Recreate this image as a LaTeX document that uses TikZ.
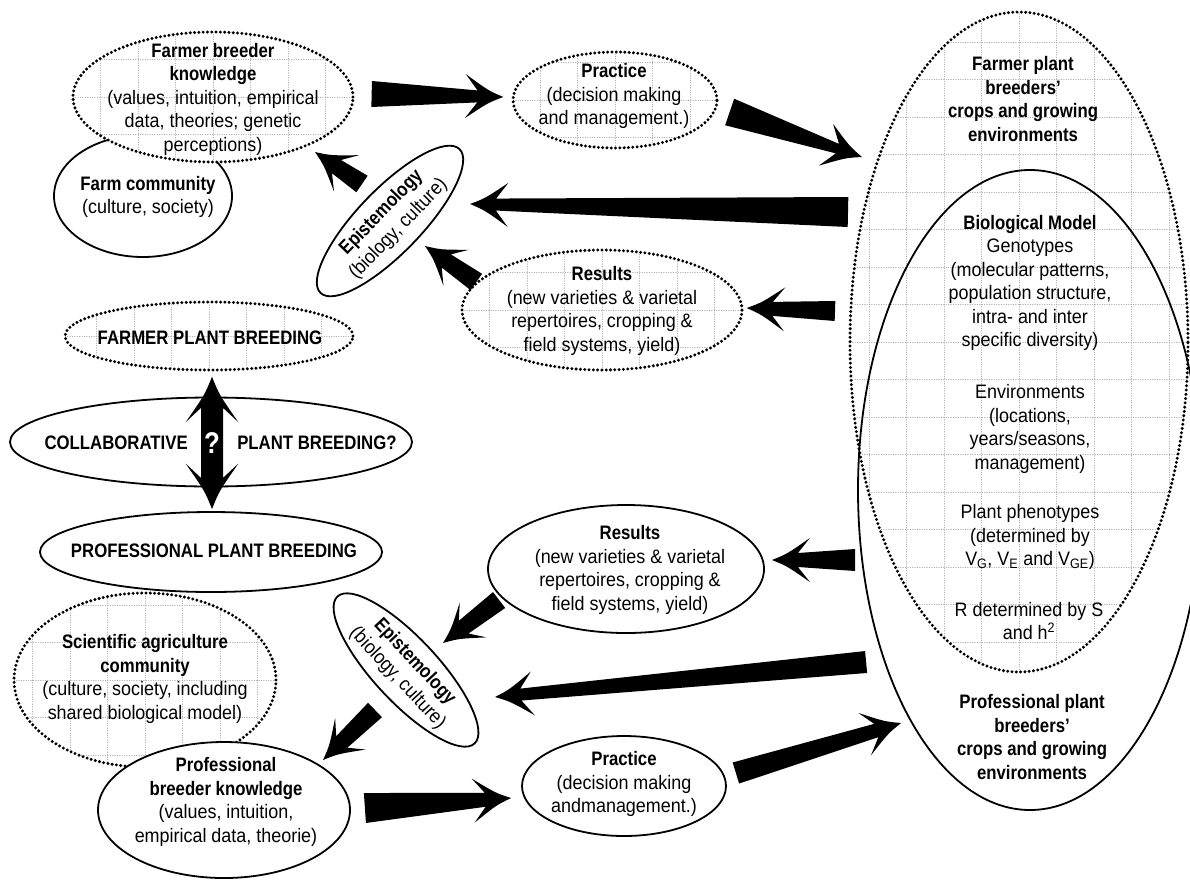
\documentclass[tikz,border=0pt]{standalone}
\usepackage{fontspec}
\setmainfont{Liberation Sans}[UprightFeatures={FakeStretch=0.92}, BoldFeatures={FakeStretch=0.86}]
\usetikzlibrary{shapes.geometric,calc,positioning}

% tapered block arrow: [head scale]{start}{tip}{start half width}{neck half width}
\newcommand{\fatarrow}[5][1]{
    \coordinate (fa-s) at (#2);
    \coordinate (fa-t) at (#3);
    \coordinate (fa-n) at ($(fa-t)!#1*26pt!(fa-s)$);
    \coordinate (fa-b) at ($(fa-t)!#1*38pt!(fa-s)$);
    \coordinate (fa-c) at ($(fa-t)!#1*15pt!(fa-s)$);
    \fill[arrowfill] ($(fa-s)!#4pt!90:(fa-t)$) -- ($(fa-n)!#5pt!90:(fa-t)$)
        -- ($(fa-b)!#1*22pt!90:(fa-t)$) .. controls ($(fa-c)!#1*6pt!90:(fa-t)$) .. (fa-t)
        .. controls ($(fa-c)!#1*6pt!-90:(fa-t)$) .. ($(fa-b)!#1*22pt!-90:(fa-t)$)
        -- ($(fa-n)!#5pt!-90:(fa-t)$) -- ($(fa-s)!#4pt!-90:(fa-t)$) -- cycle;
}

\begin{document}
\begin{tikzpicture}[x=1pt, y=-1pt, line join=round]
    \tikzstyle{txt}=[inner sep=0pt, align=center, font=\fontsize{19.5}{23.5}\selectfont]
    \tikzstyle{gridline}=[black!35, line width=0.5pt, dash pattern=on 0.6pt off 1.8pt]
    \tikzstyle{bubble}=[ellipse, inner sep=0pt, draw=black, line width=1.8pt, fill=white]
    \tikzstyle{dotted bubble}=[bubble, line width=3.3pt, line cap=round, dash pattern=on 0pt off 4.3pt,
        path picture={\draw[gridline, step=37.5pt] (path picture bounding box.north west) grid (path picture bounding box.south east);}]
    \tikzstyle{arrowfill}=[fill=black]
    \fill[white] (0,0) rectangle (1190,879);
    \useasboundingbox (0,0) rectangle (1190,879);

    % Draw the farmer side
    \node[bubble, minimum width=178pt, minimum height=122pt] (commF) at (143,196) {};
    \node[txt] (commF-t) at (148,197) {\textbf{Farm community}\\(culture, society)};
    \node[dotted bubble, minimum width=280pt, minimum height=130pt] (knowF) at (213,97) {};
    \node[txt] (knowF-t) at (213,99) {\textbf{Farmer breeder}\\\textbf{knowledge}\\(values, intuition, empirical\\data, theories; genetic\\perceptions)};
    \node[bubble, txt, rotate=46, minimum width=200pt, minimum height=64pt] (epiF) at (390,221) {\textbf{Epistemology}\\(biology, culture)};
    \node[dotted bubble, minimum width=204pt, minimum height=96pt] (pracF) at (615,100) {};
    \node[txt] (pracF-t) at (614,96) {\textbf{Practice}\\(decision making\\and management.)};
    \node[dotted bubble, minimum width=280pt, minimum height=120pt] (resF) at (602,310) {};
    \node[txt] (resF-t) at (602,311) {\textbf{Results}\\(new varieties \& varietal\\repertoires, cropping \&\\field systems, yield)};

    % Draw the crops and growing environments
    \node[dotted bubble, minimum width=338pt, minimum height=660pt] (crops) at (1019,342) {};
    \node[bubble, fill=none, minimum width=344pt, minimum height=640pt] (bioModel) at (1030,490) {};
    \node[txt] (cropsF-t) at (1023,99) {\textbf{Farmer plant}\\\textbf{breeders'}\\\textbf{crops and growing}\\\textbf{environments}};
    \node[txt] (bio-t) at (1030,283) {\textbf{Biological Model}\\Genotypes\\(molecular patterns,\\population structure,\\intra- and inter\\specific diversity)};
    \node[txt] (env-t) at (1030,429) {Environments\\(locations,\\years/seasons,\\management)};
    \node[txt] (pheno-t) at (1030,537) {Plant phenotypes\\(determined by\\V\textsubscript{G}, V\textsubscript{E} and V\textsubscript{GE})};
    \node[txt] (r-t) at (1029,621) {R determined by S\\and h\textsuperscript{2}};
    \node[txt] (cropsP-t) at (1032,737) {\textbf{Professional plant}\\\textbf{breeders'}\\\textbf{crops and growing}\\\textbf{environments}};

    % Draw the plant breeding ellipses
    \node[dotted bubble, minimum width=288pt, minimum height=68pt] (fpb) at (209,336) {};
    \node[txt] (fpb-t) at (210,338) {\textbf{FARMER PLANT BREEDING}};
    \node[bubble, minimum width=402pt, minimum height=89pt] (collab) at (211,442) {};
    \node[bubble, minimum width=342pt, minimum height=80pt] (ppb) at (211,552) {};
    \node[txt] (ppb-t) at (214,551) {\textbf{PROFESSIONAL PLANT BREEDING}};

    % Draw the professional side
    \node[dotted bubble, minimum width=262pt, minimum height=174pt] (sciComm) at (145,680) {};
    \node[txt] (sciComm-t) at (145,679) {\textbf{Scientific agriculture}\\\textbf{community}\\(culture, society, including\\shared biological model)};
    \node[bubble, minimum width=252pt, minimum height=136pt] (knowP) at (224,810) {};
    \node[txt] (knowP-t) at (226,802) {\textbf{Professional}\\\textbf{breeder knowledge}\\(values, intuition,\\empirical data, theorie)};
    \node[bubble, minimum width=276pt, minimum height=128pt] (resP) at (626,569) {};
    \node[txt] (resP-t) at (630,570) {\textbf{Results}\\(new varieties \& varietal\\repertoires, cropping \&\\field systems, yield)};
    \node[bubble, txt, rotate=-47, minimum width=201pt, minimum height=64pt] (epiP) at (406,670) {\textbf{Epistemology}\\(biology, culture)};
    \node[bubble, minimum width=204pt, minimum height=100pt] (pracP) at (624,786) {};
    \node[txt] (pracP-t) at (624,784) {\textbf{Practice}\\(decision making\\andmanagement.)};

    % Draw the block arrows
    \fatarrow{$(knowF.east)+(17,-3)$}{$(pracF.west)+(-8,-3)$}{13}{6}
    \fatarrow{$(pracF.east)+(11,12)$}{$(crops)+(-157,-185)$}{14}{5}
    \fatarrow{$(crops)+(-171,-130)$}{$(epiF)+(80,-17)$}{15}{6}
    \fatarrow{$(crops)+(-184,-31)$}{$(resF.east)+(3,-2)$}{10}{7}
    \fatarrow{$(resF.west)+(16,-28)$}{$(epiF)+(35,25)$}{10}{8}
    \fatarrow{$(epiF)+(-28,-37)$}{$(knowF)+(102,55)$}{10}{8}
    \fatarrow{$(bioModel.west)+(-2,70)$}{$(resP.east)+(7,-9)$}{11}{7}
    \fatarrow{$(resP.west)+(12,31)$}{$(epiP)+(37,-27)$}{10}{8}
    \fatarrow{$(bioModel.west)+(9,172)$}{$(epiP)+(89,27)$}{11}{6}
    \fatarrow{$(epiP)+(-31,40)$}{$(knowP)+(99,-50)$}{10}{8}
    \fatarrow{$(knowP.east)+(14,-2)$}{$(pracP.west)+(-10,12)$}{15}{7}
    \fatarrow{$(pracP.east)+(9,-13)$}{$(bioModel.west)+(44,233)$}{11}{7}

    % Draw the collaborative double arrow
    \fatarrow[1.2]{$(collab)+(1,0)$}{$(fpb.south)+(3,5)$}{11}{11}
    \fatarrow[1.2]{$(collab)+(1,0)$}{$(ppb.north)+(1,-2)$}{11}{11}
    \node[inner sep=0pt, text=white, font=\fontsize{30}{30}\selectfont\bfseries] (qm) at ($(collab)+(1,1)$) {?};
    \node[txt, left=16pt of qm] (collabL) {\textbf{COLLABORATIVE}};
    \node[txt, right=17pt of qm] (collabR) {\textbf{PLANT BREEDING?}};
\end{tikzpicture}
\end{document}
